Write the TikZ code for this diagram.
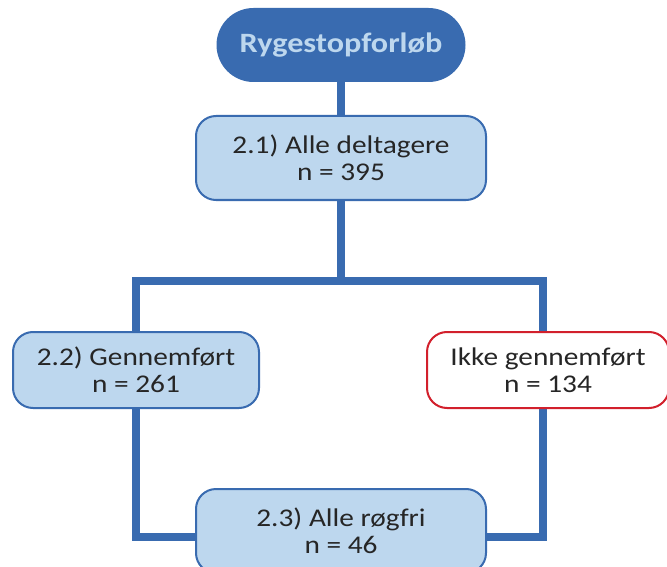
\documentclass[tikz,border=0pt]{standalone}
\usepackage{fontspec}
\setmainfont{Carlito}[FakeStretch=1.15]
\usetikzlibrary{backgrounds}

\definecolor{lineblue}{RGB}{57,107,176}
\definecolor{fillblue}{RGB}{189,215,238}
\definecolor{boxred}{RGB}{210,32,44}
\definecolor{textgray}{RGB}{38,38,38}

\tikzset{
	stepbox/.style={draw=lineblue, line width=2pt, fill=fillblue, rounded corners=20pt,
		text=textgray, align=center, font=\fontsize{25.5}{27}\selectfont, inner sep=0pt},
	titlebox/.style={fill=lineblue, rounded corners=37pt, minimum width=249pt, minimum height=74pt,
		text=fillblue, font=\fontsize{28}{30}\selectfont\bfseries, inner sep=0pt},
	flow/.style={draw=lineblue, line width=8pt, line join=miter}
}

\begin{document}
\begin{tikzpicture}[x=1pt, y=-1pt]
	\useasboundingbox (0,0) rectangle (667,567);
	\clip (0,0) rectangle (667,567);
	% Boxes
	\node[titlebox] (title) at (341,45) {Rygestopforløb};
	\node[stepbox, minimum width=290pt, minimum height=84pt] (all) at (341,158) {2.1) Alle deltagere\\n = 395};
	\node[stepbox, minimum width=246pt, minimum height=76pt] (done) at (136,370) {2.2) Gennemført\\n = 261};
	\node[stepbox, draw=boxred, fill=white, minimum width=242pt, minimum height=76pt] (notdone) at (548,370) {Ikke gennemført\\n = 134};
	\node[stepbox, minimum width=290pt, minimum height=84pt] (free) at (341,531) {2.3) Alle røgfri\\n = 46};
	\coordinate (fork) at (341,281);
	% Connectors
	\begin{scope}[on background layer]
		\draw[flow] (title.south) -- (all.north);
		\draw[flow] (all.south) -- (fork);
		\draw[flow] (done.north) |- (fork) -| ([xshift=-5pt]notdone.north);
		\draw[flow] (done.south) |- ([yshift=-6pt]free.west);
		\draw[flow] ([xshift=-5pt]notdone.south) |- ([yshift=-6pt]free.east);
	\end{scope}
\end{tikzpicture}
\end{document}
